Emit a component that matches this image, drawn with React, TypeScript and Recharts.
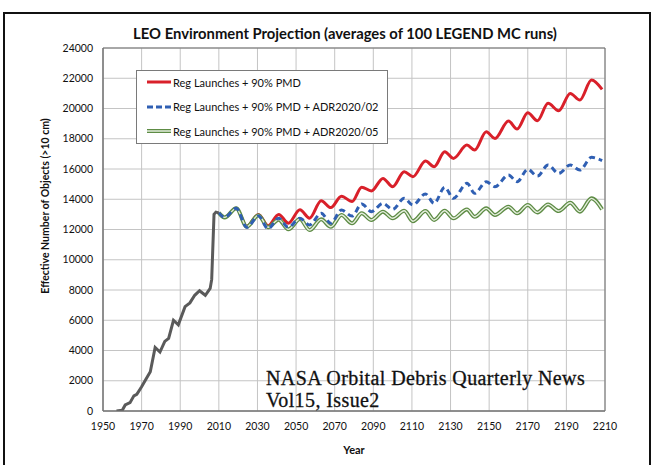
import React from 'react';
import { LineChart, Line, XAxis, YAxis, CartesianGrid, Legend, ReferenceArea } from 'recharts';

// historical catalogue (grey line)
const histYears = [1957, 1960, 1961.5, 1964, 1966, 1967.5, 1970, 1972, 1974.5, 1977, 1979.5, 1982, 1984, 1986.5, 1989, 1992.5, 1995, 1997.5, 2000, 2003, 2005.5, 2006.3, 2007.5, 2008.5, 2010];
const histObjects = [0, 50, 400, 550, 1000, 1100, 1600, 2050, 2600, 4200, 3900, 4600, 4800, 6000, 5700, 6900, 7150, 7650, 7950, 7650, 8100, 8700, 13000, 13150, 13100];

// projections, read at the peaks / troughs of the solar cycle
const projYears = [2010, 2013, 2019, 2024.5, 2030.5, 2035.5, 2041, 2046, 2052, 2057, 2063, 2068, 2073.5, 2079, 2084, 2089, 2095, 2100, 2106, 2110.5, 2117, 2121.5, 2127, 2131.5, 2138.5, 2142.5, 2148.5, 2153, 2160, 2164.5, 2170, 2175, 2180.5, 2186, 2192, 2197, 2203, 2208.5];
const regPmd = [13100, 12800, 13400, 12200, 13000, 12250, 13000, 12420, 13300, 12750, 13900, 13450, 14200, 13850, 14800, 14550, 15380, 14830, 15820, 15490, 16530, 16150, 17140, 16700, 17580, 17250, 18460, 18020, 19170, 18640, 19720, 19190, 20340, 19850, 21000, 20560, 21880, 21260];
const adr02 = [13100, 12800, 13400, 12150, 12900, 12050, 12750, 12150, 12750, 12300, 13070, 12410, 13290, 12890, 13690, 13180, 13730, 13330, 14060, 13620, 14350, 13730, 14790, 14060, 15050, 14390, 15160, 14830, 15600, 15160, 15980, 15530, 16260, 15710, 16260, 15930, 16770, 16550];
const adr05 = [13100, 12800, 13400, 12180, 12950, 12150, 12650, 12010, 12690, 11960, 12670, 12180, 12960, 12410, 13070, 12630, 13180, 12740, 13240, 12550, 13220, 12630, 13240, 12740, 13330, 12840, 13400, 12960, 13510, 13070, 13620, 13130, 13660, 13220, 13770, 13180, 14060, 13330];

const yearTicks = [1950, 1970, 1990, 2010, 2030, 2050, 2070, 2090, 2110, 2130, 2150, 2170, 2190, 2210];
const minorYearTicks = [1960, 1980, 2000, 2020, 2040, 2060, 2080, 2100, 2120, 2140, 2160, 2180, 2200];
const objectTicks = [0, 2000, 4000, 6000, 8000, 10000, 12000, 14000, 16000, 18000, 20000, 22000, 24000];
const minorObjectTicks = [1000, 3000, 5000, 7000, 9000, 11000, 13000, 15000, 17000, 19000, 21000, 23000];

const legendItems = [
  { label: 'Reg Launches + 90% PMD', kind: 'red' },
  { label: 'Reg Launches + 90% PMD + ADR2020/02', kind: 'blue' },
  { label: 'Reg Launches + 90% PMD + ADR2020/05', kind: 'green' },
];

const histData = histYears.map((year, i) => ({ year, objects: histObjects[i] }));
const projData = projYears.map((year, i) => ({ year, reg: regPmd[i], adr02: adr02[i], adr05: adr05[i] }));

const RED = '#d9202a';
const BLUE = '#2f5fb3';
const GREEN = '#5e8c45';
const GREEN_IN = '#e6efdf';
const FONT = 'Lato, "Open Sans", sans-serif';

function LegendBox() {
  return (
    <div style={{ width: 250, height: 72, border: '1px solid #7a7a7a', background: '#fff', fontFamily: FONT, fontSize: 11, color: '#111' }}>
      {legendItems.map((item, i) => (
        <div key={item.kind} style={{ position: 'absolute', left: 10, top: 4 + i * 24.5, height: 16, display: 'flex', alignItems: 'center' }}>
          <svg width={26} height={8} style={{ marginRight: 1 }}>
            {item.kind === 'red' && <line x1={1} y1={4} x2={25} y2={4} stroke={RED} strokeWidth={3} />}
            {item.kind === 'blue' && <line x1={1} y1={4} x2={25} y2={4} stroke={BLUE} strokeWidth={3} strokeDasharray="6 3" />}
            {item.kind === 'green' && (
              <g>
                <line x1={1} y1={4} x2={25} y2={4} stroke={GREEN} strokeWidth={4} />
                <line x1={1} y1={4} x2={25} y2={4} stroke={GREEN_IN} strokeWidth={1.5} />
              </g>
            )}
          </svg>
          <span style={{ whiteSpace: 'nowrap' }}>{item.label}</span>
        </div>
      ))}
    </div>
  );
}

export default function App() {
  return (
    <div style={{ position: 'absolute', left: 0, top: 0, width: 654, height: 465, background: '#fff', overflow: 'hidden', fontFamily: FONT }}>
      {/* outer frame of the scanned figure */}
      <div style={{ position: 'absolute', left: 3, top: 12, width: 644, height: 470, border: '2px solid #111' }} />

      <div style={{ position: 'absolute', left: 345, top: 23, transform: 'translateX(-50%)', whiteSpace: 'nowrap', fontWeight: 700, fontSize: 14.8, lineHeight: '20px', color: '#111' }}>
        LEO Environment Projection (averages of 100 LEGEND MC runs)
      </div>

      <LineChart width={654} height={465} margin={{ top: 48, right: 49, bottom: 0, left: 0 }}>
        <CartesianGrid stroke="#c4c4c4" strokeWidth={1} verticalValues={yearTicks} horizontalValues={objectTicks} />
        <XAxis xAxisId="minor" type="number" dataKey="year" domain={[1950, 2210]} ticks={minorYearTicks} tick={false} tickSize={4} mirror axisLine={false} tickLine={{ stroke: '#888' }} height={0} allowDataOverflow />
        <XAxis
          type="number"
          dataKey="year"
          domain={[1950, 2210]}
          ticks={yearTicks}
          interval={0}
          height={54}
          tickLine={false}
          tickMargin={6}
          axisLine={{ stroke: '#777' }}
          tick={{ fontSize: 10.5, fill: '#111', fontFamily: FONT }}
          allowDataOverflow
        />
        <YAxis yAxisId="minor" type="number" domain={[0, 24000]} ticks={minorObjectTicks} tick={false} tickSize={4} mirror axisLine={false} tickLine={{ stroke: '#888' }} width={0} allowDataOverflow />
        <YAxis
          type="number"
          domain={[0, 24000]}
          ticks={objectTicks}
          interval={0}
          width={103}
          tickLine={false}
          tickMargin={4}
          axisLine={{ stroke: '#777' }}
          tick={{ fontSize: 10.5, fill: '#111', fontFamily: FONT }}
          allowDataOverflow
        />
        <ReferenceArea x1={1950} x2={2210} y1={0} y2={24000} fill="none" stroke="#6e6e6e" strokeWidth={1} ifOverflow="visible" />
        <Line data={projData} dataKey="reg" type="monotone" stroke={RED} strokeWidth={3} dot={false} isAnimationActive={false} />
        <Line data={projData} dataKey="adr05" type="monotone" stroke={GREEN} strokeWidth={4} dot={false} isAnimationActive={false} />
        <Line data={projData} dataKey="adr05" type="monotone" stroke={GREEN_IN} strokeWidth={1.4} dot={false} legendType="none" isAnimationActive={false} />
        <Line data={projData} dataKey="adr02" type="monotone" stroke={BLUE} strokeWidth={3} strokeDasharray="6 4" dot={false} isAnimationActive={false} />
        <Line data={histData} dataKey="objects" type="linear" stroke="#5a5a5a" strokeWidth={3} dot={false} isAnimationActive={false} />
        <Legend
          layout="vertical"
          align="center"
          verticalAlign="middle"
          content={() => <LegendBox />}
          wrapperStyle={{ position: 'absolute', left: 136, top: 70, width: 252, height: 74 }}
        />
      </LineChart>

      <div style={{ position: 'absolute', left: 45, top: 206, transform: 'translate(-50%, -50%) rotate(-90deg)', whiteSpace: 'nowrap', fontWeight: 700, fontSize: 10.5, color: '#111' }}>
        Effective Number of Objects (&gt;10 cm)
      </div>
      <div style={{ position: 'absolute', left: 354, top: 443, transform: 'translateX(-50%)', fontWeight: 700, fontSize: 11, color: '#111' }}>
        Year
      </div>

      <div style={{ position: 'absolute', left: 266, top: 367, fontFamily: '"Liberation Serif", serif', fontSize: 20, lineHeight: '22px', color: '#111', whiteSpace: 'nowrap', letterSpacing: 0.4, WebkitTextStroke: '0.3px #111' }}>
        <div>NASA Orbital Debris Quarterly News</div>
        <div>Vol15, Issue2</div>
      </div>
    </div>
  );
}
